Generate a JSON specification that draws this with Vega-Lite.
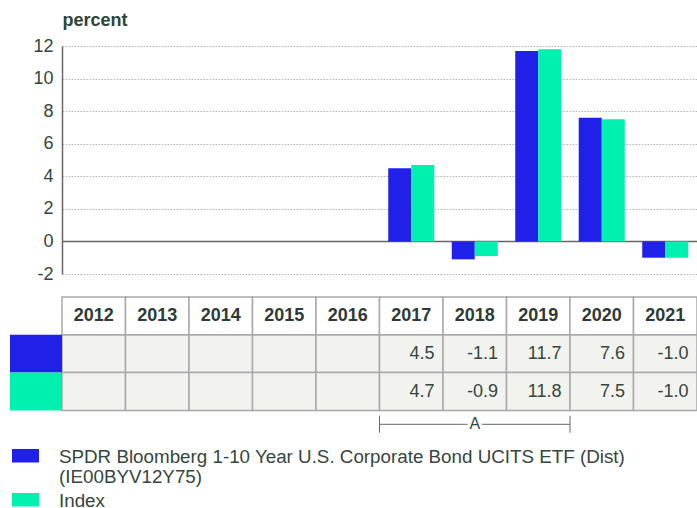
{
  "$schema": "https://vega.github.io/schema/vega-lite/v6.json",
  "padding": {"left": 10, "top": 11, "right": 0, "bottom": 0},
  "background": "white",
  "bounds": "flush",
  "spacing": 23,
  "config": {
    "view": {"stroke": null},
    "font": "Liberation Sans",
    "locale": {"number": {"decimal": ".", "thousands": ",", "grouping": [3], "currency": ["$", ""], "minus": "-"}}
  },
  "resolve": {"scale": {"color": "shared"}},
  "datasets": {
    "perf": [
      {"year": "2012", "series": "SPDR Bloomberg 1-10 Year U.S. Corporate Bond UCITS ETF (Dist) (IE00BYV12Y75)", "value": null},
      {"year": "2013", "series": "SPDR Bloomberg 1-10 Year U.S. Corporate Bond UCITS ETF (Dist) (IE00BYV12Y75)", "value": null},
      {"year": "2014", "series": "SPDR Bloomberg 1-10 Year U.S. Corporate Bond UCITS ETF (Dist) (IE00BYV12Y75)", "value": null},
      {"year": "2015", "series": "SPDR Bloomberg 1-10 Year U.S. Corporate Bond UCITS ETF (Dist) (IE00BYV12Y75)", "value": null},
      {"year": "2016", "series": "SPDR Bloomberg 1-10 Year U.S. Corporate Bond UCITS ETF (Dist) (IE00BYV12Y75)", "value": null},
      {"year": "2017", "series": "SPDR Bloomberg 1-10 Year U.S. Corporate Bond UCITS ETF (Dist) (IE00BYV12Y75)", "value": 4.5},
      {"year": "2018", "series": "SPDR Bloomberg 1-10 Year U.S. Corporate Bond UCITS ETF (Dist) (IE00BYV12Y75)", "value": -1.1},
      {"year": "2019", "series": "SPDR Bloomberg 1-10 Year U.S. Corporate Bond UCITS ETF (Dist) (IE00BYV12Y75)", "value": 11.7},
      {"year": "2020", "series": "SPDR Bloomberg 1-10 Year U.S. Corporate Bond UCITS ETF (Dist) (IE00BYV12Y75)", "value": 7.6},
      {"year": "2021", "series": "SPDR Bloomberg 1-10 Year U.S. Corporate Bond UCITS ETF (Dist) (IE00BYV12Y75)", "value": -1.0},
      {"year": "2012", "series": "Index", "value": null},
      {"year": "2013", "series": "Index", "value": null},
      {"year": "2014", "series": "Index", "value": null},
      {"year": "2015", "series": "Index", "value": null},
      {"year": "2016", "series": "Index", "value": null},
      {"year": "2017", "series": "Index", "value": 4.7},
      {"year": "2018", "series": "Index", "value": -0.9},
      {"year": "2019", "series": "Index", "value": 11.8},
      {"year": "2020", "series": "Index", "value": 7.5},
      {"year": "2021", "series": "Index", "value": -1.0}
    ],
    "annot": [
      {"from": "2017", "mid": "2018", "to": "2019", "label": "A"}
    ]
  },
  "vconcat": [
    {
      "width": 635,
      "height": 228,
      "data": {"name": "perf"},
      "mark": {"type": "bar"},
      "encoding": {
        "x": {"field": "year", "type": "ordinal", "scale": {"domain": ["2012","2013","2014","2015","2016","2017","2018","2019","2020","2021"], "paddingInner": 0, "paddingOuter": 0}, "axis": null},
        "xOffset": {"field": "series", "type": "nominal", "scale": {"domain": ["SPDR Bloomberg 1-10 Year U.S. Corporate Bond UCITS ETF (Dist) (IE00BYV12Y75)", "Index"], "paddingInner": 0, "paddingOuter": 0.38}},
        "y": {
          "field": "value", "type": "quantitative",
          "scale": {"domain": [-2, 12], "nice": false, "zero": false},
          "axis": {
            "title": "percent", "titleAngle": 0, "titleAlign": "left", "titleBaseline": "alphabetic",
            "titleX": 0, "titleY": -21, "titleFontSize": 18, "titleFontWeight": "bold", "titleColor": "#2d443b",
            "values": [-2, 0, 2, 4, 6, 8, 10, 12],
            "labelFontSize": 18, "labelColor": "#354540", "labelPadding": 9,
            "ticks": false,
            "domainColor": "#666666", "domainWidth": 1.5,
            "grid": true,
            "gridColor": {"condition": {"test": "datum.value === 0", "value": "#666666"}, "value": "#b5b5b5"},
            "gridDash": {"condition": {"test": "datum.value === 0", "value": []}, "value": [1.5, 1.5]},
            "gridWidth": {"condition": {"test": "datum.value === 0", "value": 1.5}, "value": 1}
          }
        },
        "color": {
          "field": "series", "type": "nominal",
          "scale": {"domain": ["SPDR Bloomberg 1-10 Year U.S. Corporate Bond UCITS ETF (Dist) (IE00BYV12Y75)", "Index"], "range": ["#2020E8", "#00F0B0"]},
          "legend": {
            "orient": "none", "legendX": -50, "legendY": 403, "title": null, "direction": "vertical",
            "symbolType": "M-1,-1H1V0H-1Z", "symbolSize": 729, "symbolStrokeWidth": 0, "symbolOpacity": 1,
            "labelFont": "Liberation Sans", "labelFontSize": 18.8, "labelColor": "#354540", "labelOffset": 20, "labelLimit": 1000,
            "labelBaseline": "alphabetic", "rowPadding": 3, "padding": 0,
            "labelExpr": "datum.label === 'Index' ? 'Index' : [substring(datum.label, 0, 61), substring(datum.label, 62)]"
          }
        }
      }
    },
    {
      "width": 635,
      "height": 151.2,
      "resolve": {"scale": {"x": "independent"}},
      "layer": [
        {
          "layer": [
            {
              "data": {"name": "perf"},
              "mark": {"type": "rect", "fill": "#f2f2ee", "stroke": "#a9a9a9", "strokeWidth": 1.5},
              "encoding": {
                "x": {"field": "year", "type": "ordinal", "scale": {"domain": ["2012","2013","2014","2015","2016","2017","2018","2019","2020","2021"], "paddingInner": 0, "paddingOuter": 0}, "axis": null},
                "y": {"field": "series", "type": "nominal", "scale": {"domain": ["header", "SPDR Bloomberg 1-10 Year U.S. Corporate Bond UCITS ETF (Dist) (IE00BYV12Y75)", "Index", "annot"], "paddingInner": 0, "paddingOuter": 0}, "axis": null}
              }
            },
            {
              "data": {"name": "perf"},
              "transform": [{"filter": "datum.series === 'Index'"}],
              "mark": {"type": "rect", "fill": "white", "stroke": "#a9a9a9", "strokeWidth": 1.5},
              "encoding": {
                "x": {"field": "year", "type": "ordinal"},
                "y": {"datum": "header", "type": "nominal"}
              }
            },
            {
              "data": {"name": "perf"},
              "transform": [{"filter": "datum.series === 'Index'"}],
              "mark": {"type": "text", "fontSize": 18, "fontWeight": "bold", "color": "#2d3b36", "baseline": "middle"},
              "encoding": {
                "x": {"field": "year", "type": "ordinal"},
                "y": {"datum": "header", "type": "nominal"},
                "text": {"field": "year"}
              }
            },
            {
              "data": {"name": "perf"},
              "transform": [{"filter": "isValid(datum.value)"}],
              "mark": {"type": "text", "fontSize": 18, "color": "#354540", "align": "right", "baseline": "middle", "dx": -8.5},
              "encoding": {
                "x": {"field": "year", "type": "ordinal", "bandPosition": 1},
                "y": {"field": "series", "type": "nominal"},
                "text": {"field": "value", "type": "quantitative", "format": ".1f"}
              }
            },
            {
              "data": {"name": "annot"},
              "mark": {"type": "rule", "color": "#666666", "strokeWidth": 1, "yOffset": -5},
              "encoding": {
                "x": {"field": "from", "type": "ordinal", "bandPosition": 0},
                "x2": {"field": "to", "bandPosition": 1},
                "y": {"datum": "annot", "type": "nominal"}
              }
            },
            {
              "data": {"name": "annot"},
              "mark": {"type": "tick", "orient": "vertical", "size": 17, "thickness": 1, "color": "#666666", "opacity": 1, "yOffset": -5},
              "encoding": {
                "x": {"field": "from", "type": "ordinal", "bandPosition": 0},
                "y": {"datum": "annot", "type": "nominal"}
              }
            },
            {
              "data": {"name": "annot"},
              "mark": {"type": "tick", "orient": "vertical", "size": 17, "thickness": 1, "color": "#666666", "opacity": 1, "yOffset": -5},
              "encoding": {
                "x": {"field": "to", "type": "ordinal", "bandPosition": 1},
                "y": {"datum": "annot", "type": "nominal"}
              }
            },
            {
              "data": {"name": "annot"},
              "mark": {"type": "point", "shape": "square", "filled": true, "color": "white", "opacity": 1, "size": 200, "yOffset": -5},
              "encoding": {
                "x": {"field": "mid", "type": "ordinal"},
                "y": {"datum": "annot", "type": "nominal"}
              }
            },
            {
              "data": {"name": "annot"},
              "mark": {"type": "text", "fontSize": 16, "color": "#354540", "baseline": "middle", "yOffset": -5},
              "encoding": {
                "x": {"field": "mid", "type": "ordinal"},
                "y": {"datum": "annot", "type": "nominal"},
                "text": {"field": "label"}
              }
            }
          ]
        },
        {
          "data": {"name": "perf"},
          "transform": [{"filter": "datum.year === '2012'"}],
          "mark": {"type": "rect"},
          "encoding": {
            "x": {"datum": "swatch", "type": "nominal", "scale": {"range": [-52, 0], "paddingInner": 0, "paddingOuter": 0}, "axis": null},
            "y": {"field": "series", "type": "nominal"},
            "color": {"field": "series", "type": "nominal"}
          }
        }
      ]
    }
  ]
}
